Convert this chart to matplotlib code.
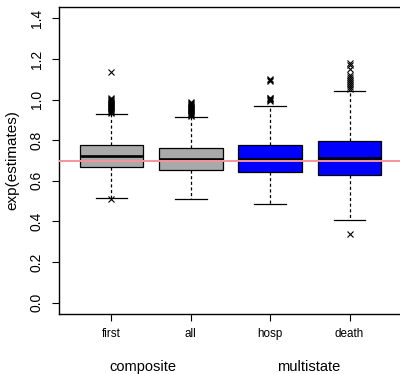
import numpy as np
import matplotlib
matplotlib.use("Agg")
import matplotlib.pyplot as plt
import matplotlib.transforms as mtransforms

plt.rcParams['font.family'] = ['Liberation Sans', 'DejaVu Sans']

labels = ['first', 'all', 'hosp', 'death']
q1 = [0.668, 0.655, 0.644, 0.627]
med = [0.720, 0.707, 0.706, 0.713]
q3 = [0.774, 0.761, 0.777, 0.794]
whislo = [0.515, 0.508, 0.484, 0.409]
whishi = [0.928, 0.914, 0.970, 1.043]
fliers = [
    [0.512, 0.935, 0.94, 0.945, 0.95, 0.955, 0.96, 0.965, 0.97, 0.975, 0.98,
     0.985, 0.99, 0.995, 1.0, 1.005, 1.01, 1.134],
    [0.92, 0.925, 0.93, 0.935, 0.94, 0.945, 0.95, 0.955, 0.96, 0.965, 0.97,
     0.975, 0.98, 0.985, 0.99],
    [0.995, 1.0, 1.003, 1.007, 1.01, 1.09, 1.095, 1.10],
    [0.337, 1.05, 1.06, 1.07, 1.08, 1.09, 1.10, 1.11, 1.12, 1.15, 1.17, 1.18],
]
colors = ['darkgray', 'darkgray', '#0000FF', '#0000FF']
groups = ['composite', 'multistate']
group_x = [1.4, 3.48]
ref_line = 0.7

fig = plt.figure(figsize=(4.0, 3.74), dpi=100)
ax = fig.add_axes((59 / 400, 60 / 374, 343 / 400, 307 / 374))

stats = []
for i in range(len(labels)):
    stats.append(dict(label=labels[i], q1=q1[i], med=med[i], q3=q3[i],
                      whislo=whislo[i], whishi=whishi[i], fliers=fliers[i]))

bp = ax.bxp(stats, positions=np.arange(1, 5), widths=0.8, capwidths=0.4,
            patch_artist=True, showfliers=True,
            boxprops=dict(edgecolor='black', linewidth=0.9),
            medianprops=dict(color='black', linewidth=1.9, solid_capstyle='butt'),
            whiskerprops=dict(color='black', linewidth=0.9, linestyle=(0, (2.5, 2))),
            capprops=dict(color='black', linewidth=0.9),
            flierprops=dict(marker='x', markersize=5, markeredgecolor='black',
                            markeredgewidth=0.8, linestyle='none'))
for patch, c in zip(bp['boxes'], colors):
    patch.set_facecolor(c)

ax.axhline(ref_line, color='#F4959C', linewidth=1.4, zorder=5)

ax.set_xlim(0.34, 4.66)
ax.set_ylim(-0.056, 1.456)
ax.set_yticks(np.arange(0, 1.41, 0.2))
ax.set_yticklabels(['%.1f' % v for v in np.arange(0, 1.41, 0.2)],
                   rotation=90, va='center', fontsize=10)
ax.set_xticks(np.arange(1, 5))
ax.set_xticklabels(labels, fontsize=8.4)
ax.tick_params(axis='y', length=5, width=0.8, pad=6)
ax.tick_params(axis='x', length=5, width=0.8, pad=5)
for s in ax.spines.values():
    s.set_linewidth(1.0)

ax.set_ylabel('exp(estimates)', fontsize=11, va='center')
ax.yaxis.set_label_coords(-47 / 343, 0.5)

trans = mtransforms.blended_transform_factory(ax.transData, fig.transFigure)
for g, x in zip(groups, group_x):
    ax.text(x, 1 - 367 / 374, g, transform=trans, ha='center', va='center',
            fontsize=10.5)

fig.savefig('out.png', dpi=100)
